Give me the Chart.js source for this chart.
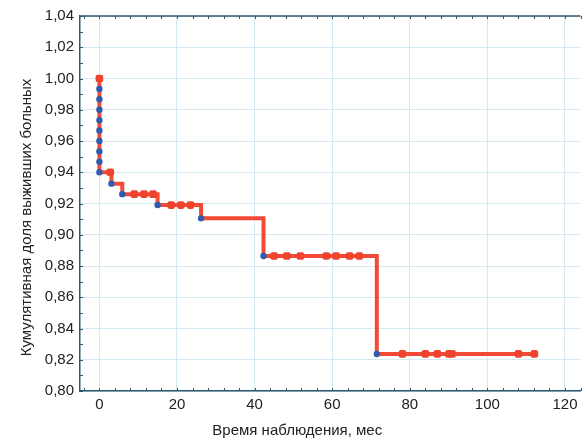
<!DOCTYPE html>
<html>
<head>
<meta charset="utf-8">
<script src="https://cdn.jsdelivr.net/npm/chart.js@4.4.1/dist/chart.umd.min.js"></script>
<style>
  html, body { margin: 0; padding: 0; background: #fff; }
  #wrap { width: 585px; height: 448px; }
</style>
</head>
<body>
<div id="wrap"><canvas id="kmChart" width="585" height="448"></canvas></div>
<script>
// tick values
const xTicks = [0, 20, 40, 60, 80, 100, 120];
const yTicks = [0.80, 0.82, 0.84, 0.86, 0.88, 0.90, 0.92, 0.94, 0.96, 0.98, 1.00, 1.02, 1.04];

// axis titles
const xTitle = 'Время наблюдения, мес';
const yTitle = 'Кумулятивная доля выживших больных';

// step curve (time, survival after the step)
const curveTimes = [0, 0, 3.1, 5.9, 15, 26.2, 42.3, 71.5, 112.6];
const curveSurv = [1.00, 0.94, 0.9327, 0.926, 0.919, 0.9105, 0.8864, 0.8237, 0.8237];

// complete observations (blue dots)
const eventTimes = [0, 0, 0, 0, 0, 0, 0, 0, 0, 3.1, 5.9, 15, 26.2, 42.3, 71.5];
const eventSurv = [0.9933, 0.9867, 0.98, 0.9733, 0.9667, 0.96, 0.9533, 0.9467, 0.94,
  0.9327, 0.926, 0.919, 0.9105, 0.8864, 0.8237];

// censored observations (red squares)
const censorTimes = [0, 2.8, 9, 11.5, 13.8, 18.5, 21, 23.5,
  45, 48.3, 51.8, 58.5, 61, 64.5, 67,
  78.1, 84, 87.1, 90.1, 90.9, 108, 112.1];
const censorSurv = [1.00, 0.94, 0.926, 0.926, 0.926, 0.919, 0.919, 0.919,
  0.8864, 0.8864, 0.8864, 0.8864, 0.8864, 0.8864, 0.8864,
  0.8237, 0.8237, 0.8237, 0.8237, 0.8237, 0.8237, 0.8237];

const toXY = (xs, ys) => xs.map((x, i) => ({ x: x, y: ys[i] }));

const axisColor = '#2f5966';
const gridColor = '#d6e9f3';
const textColor = '#222';
const fontFamily = '"Liberation Sans", Arial, sans-serif';

// top border, inward tick marks (major and minor) and the two axis titles
const frameTicks = {
  id: 'frameTicks',
  afterDraw(chart) {
    const { ctx, chartArea: a, scales: { x, y } } = chart;
    ctx.save();
    ctx.strokeStyle = axisColor;
    ctx.lineWidth = 1.5;
    ctx.beginPath();
    ctx.moveTo(a.left, a.top);
    ctx.lineTo(a.right, a.top);
    ctx.stroke();
    ctx.lineWidth = 1;
    ctx.beginPath();
    for (let v = -4; v <= x.max; v += 4) {
      const px = Math.round(x.getPixelForValue(v)) + 0.5;
      ctx.moveTo(px, a.bottom); ctx.lineTo(px, a.bottom - 3);
      ctx.moveTo(px, a.top); ctx.lineTo(px, a.top + 3);
    }
    for (let k = 80; k <= 104; k++) {
      const py = Math.round(y.getPixelForValue(k / 100)) + 0.5;
      ctx.moveTo(a.left, py); ctx.lineTo(a.left + 3, py);
    }
    ctx.stroke();

    ctx.fillStyle = textColor;
    ctx.font = '15px ' + fontFamily;
    ctx.textAlign = 'center';
    ctx.textBaseline = 'middle';
    ctx.fillText(xTitle, (a.left + a.right) / 2 - 33, a.bottom + 40);
    ctx.translate(27, (a.top + a.bottom) / 2 + 14);
    ctx.rotate(-Math.PI / 2);
    ctx.fillText(yTitle, 0, 0);
    ctx.restore();
  }
};

new Chart(document.getElementById('kmChart'), {
  type: 'scatter',
  data: {
    datasets: [
      {
        label: 'Полные',
        data: toXY(eventTimes, eventSurv),
        pointStyle: 'circle',
        pointRadius: 3.2,
        pointBackgroundColor: '#2f5cb0',
        pointBorderWidth: 0
      },
      {
        label: 'Цензурированные',
        data: toXY(censorTimes, censorSurv),
        pointStyle: 'rectRounded',
        pointRadius: 4.5,
        pointBackgroundColor: '#f0432e',
        pointBorderWidth: 0
      },
      {
        label: 'Кривая',
        data: toXY(curveTimes, curveSurv),
        showLine: true,
        stepped: 'before',
        borderColor: '#f24a35',
        borderWidth: 4,
        pointRadius: 0
      }
    ]
  },
  options: {
    responsive: false,
    animation: false,
    layout: { padding: { top: 16, right: 0, bottom: 0, left: 0 } },
    plugins: {
      legend: { display: false },
      tooltip: { enabled: false }
    },
    scales: {
      x: {
        type: 'linear',
        min: -5,
        max: 124,
        afterBuildTicks: (s) => { s.ticks = xTicks.map(v => ({ value: v })); },
        afterFit: (s) => { s.height = 57; },
        grid: { color: gridColor, drawTicks: false },
        border: { color: axisColor, width: 1.5 },
        ticks: {
          padding: 5,
          color: textColor,
          font: { family: fontFamily, size: 15 },
          maxRotation: 0
        }
      },
      y: {
        min: 0.80,
        max: 1.04,
        afterBuildTicks: (s) => { s.ticks = yTicks.map(v => ({ value: v })); },
        afterFit: (s) => { s.width = 80; },
        grid: { color: gridColor, drawTicks: false },
        border: { color: axisColor, width: 1.5 },
        ticks: {
          padding: 6,
          color: textColor,
          font: { family: fontFamily, size: 15 },
          callback: (v) => v.toFixed(2).replace('.', ',')
        }
      }
    }
  },
  plugins: [frameTicks]
});
</script>
</body>
</html>
